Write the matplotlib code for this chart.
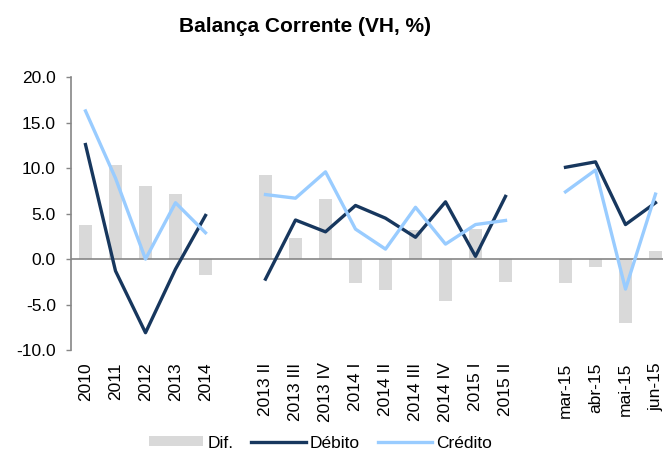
import numpy as np
import matplotlib
matplotlib.use("Agg")
import matplotlib.pyplot as plt

plt.rcParams['font.family'] = ['Liberation Sans', 'DejaVu Sans']

nan = np.nan
categories = ["2010", "2011", "2012", "2013", "2014", "",
              "2013 II", "2013 III", "2013 IV", "2014 I", "2014 II", "2014 III",
              "2014 IV", "2015 I", "2015 II", "",
              "mar-15", "abr-15", "mai-15", "jun-15"]
dif = [3.7, 10.3, 8.0, 7.2, -1.8, nan,
       9.3, 2.3, 6.6, -2.6, -3.4, 3.2, -4.6, 3.3, -2.5, nan,
       -2.6, -0.9, -7.0, 0.9]
debito = [12.6, -1.3, -8.1, -1.1, 4.8, nan,
          -2.2, 4.3, 3.0, 5.9, 4.5, 2.4, 6.3, 0.3, 6.9, nan,
          10.1, 10.7, 3.8, 6.2]
credito = [16.3, 8.9, 0.0, 6.2, 2.9, nan,
           7.1, 6.7, 9.6, 3.3, 1.1, 5.7, 1.65, 3.8, 4.25, nan,
           7.4, 9.8, -3.3, 7.15]

W, H = 663, 454
fig = plt.figure(figsize=(W / 100, H / 100), dpi=100)
ax = fig.add_axes([70.5 / W, 104 / H, 600 / W, 272.7 / H])

x = np.arange(len(categories))
b = ax.bar(x, dif, width=0.41, color="#D9D9D9", label="Dif.", zorder=1)
ax.axhline(0, color="#868686", lw=1.2, zorder=2)
l1, = ax.plot(x, debito, color="#17375E", lw=2.4, label="Débito", zorder=3)
l2, = ax.plot(x, credito, color="#99CCFF", lw=2.4, label="Crédito", zorder=3)

ax.set_xlim(-0.5, len(categories) - 0.5)
ax.set_ylim(-10, 20)
yt = np.arange(-10, 20.1, 5)
ax.set_yticks(yt)
ax.set_yticklabels([f"{v:.1f}" for v in yt], fontsize=12.5)
ax.set_xticks(x)
ax.set_xticklabels(categories, rotation=90, fontsize=12.5)
ax.tick_params(axis="x", length=0, pad=9)
ax.tick_params(axis="y", direction="out", length=3.5, width=1, color="#868686", pad=7)

for s in ["top", "right", "bottom"]:
    ax.spines[s].set_visible(False)
ax.spines["left"].set_color("#868686")
ax.spines["left"].set_linewidth(1.2)

fig.text(305 / W, 1 - 26 / H, "Balança Corrente (VH, %)", ha="center", va="center",
         fontsize=15, fontweight="bold")

fig.legend(handles=[b, l1, l2], labels=["Dif.", "Débito", "Crédito"],
           loc="center", bbox_to_anchor=(320.5 / W, 11 / H), ncol=3, frameon=False,
           fontsize=12.5, handlelength=3.15, handleheight=0.5, handletextpad=0.25,
           columnspacing=1.0)

fig.savefig("out.png", dpi=100)
